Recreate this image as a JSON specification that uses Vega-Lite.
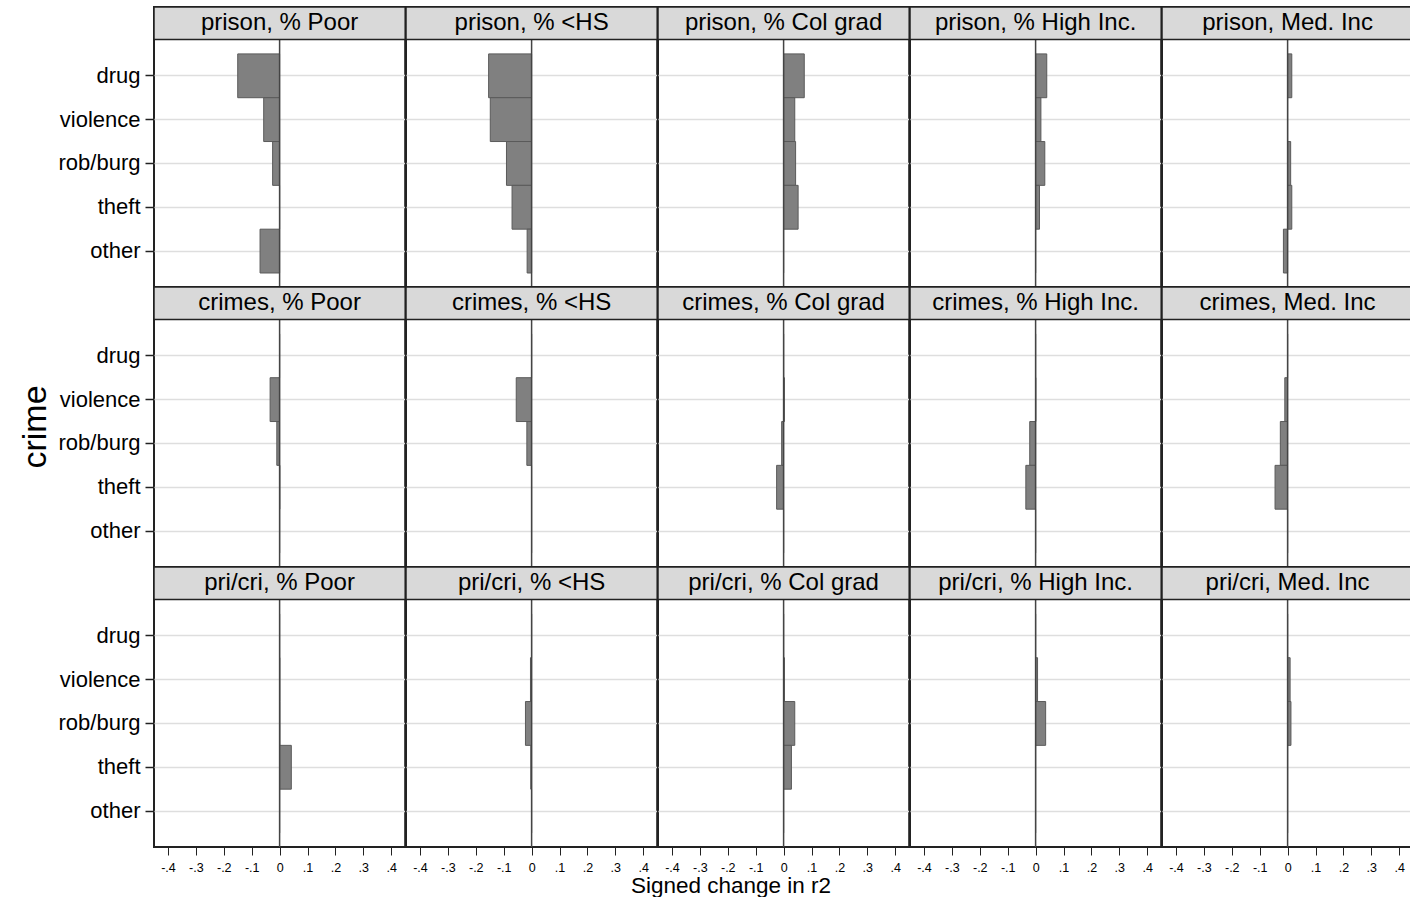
{
  "$schema": "https://vega.github.io/schema/vega-lite/v6.json",
  "padding": {"left": 19, "top": 5, "right": 0, "bottom": 0},
  "background": "white",
  "config": {
    "font": "Liberation Sans",
    "view": {"stroke": "#222222", "strokeWidth": 2}
  },
  "title": {"text": "Signed change in r2", "orient": "bottom", "fontSize": 22.5, "fontWeight": "normal", "anchor": "middle", "dx": 14, "offset": 1, "color": "black", "font": "Liberation Sans"},
  "data": {"values": [
    {"g": "prison", "v": "% Poor", "c": "drug", "r2": -0.15, "panel": "prison, % Poor"},
    {"g": "prison", "v": "% Poor", "c": "violence", "r2": -0.057, "panel": "prison, % Poor"},
    {"g": "prison", "v": "% Poor", "c": "rob/burg", "r2": -0.025, "panel": "prison, % Poor"},
    {"g": "prison", "v": "% Poor", "c": "theft", "r2": 0, "panel": "prison, % Poor"},
    {"g": "prison", "v": "% Poor", "c": "other", "r2": -0.07, "panel": "prison, % Poor"},
    {"g": "prison", "v": "% <HS", "c": "drug", "r2": -0.154, "panel": "prison, % <HS"},
    {"g": "prison", "v": "% <HS", "c": "violence", "r2": -0.148, "panel": "prison, % <HS"},
    {"g": "prison", "v": "% <HS", "c": "rob/burg", "r2": -0.09, "panel": "prison, % <HS"},
    {"g": "prison", "v": "% <HS", "c": "theft", "r2": -0.07, "panel": "prison, % <HS"},
    {"g": "prison", "v": "% <HS", "c": "other", "r2": -0.016, "panel": "prison, % <HS"},
    {"g": "prison", "v": "% Col grad", "c": "drug", "r2": 0.074, "panel": "prison, % Col grad"},
    {"g": "prison", "v": "% Col grad", "c": "violence", "r2": 0.04, "panel": "prison, % Col grad"},
    {"g": "prison", "v": "% Col grad", "c": "rob/burg", "r2": 0.043, "panel": "prison, % Col grad"},
    {"g": "prison", "v": "% Col grad", "c": "theft", "r2": 0.052, "panel": "prison, % Col grad"},
    {"g": "prison", "v": "% Col grad", "c": "other", "r2": 0, "panel": "prison, % Col grad"},
    {"g": "prison", "v": "% High Inc.", "c": "drug", "r2": 0.04, "panel": "prison, % High Inc."},
    {"g": "prison", "v": "% High Inc.", "c": "violence", "r2": 0.019, "panel": "prison, % High Inc."},
    {"g": "prison", "v": "% High Inc.", "c": "rob/burg", "r2": 0.033, "panel": "prison, % High Inc."},
    {"g": "prison", "v": "% High Inc.", "c": "theft", "r2": 0.014, "panel": "prison, % High Inc."},
    {"g": "prison", "v": "% High Inc.", "c": "other", "r2": 0, "panel": "prison, % High Inc."},
    {"g": "prison", "v": "Med. Inc", "c": "drug", "r2": 0.015, "panel": "prison, Med. Inc"},
    {"g": "prison", "v": "Med. Inc", "c": "violence", "r2": 0, "panel": "prison, Med. Inc"},
    {"g": "prison", "v": "Med. Inc", "c": "rob/burg", "r2": 0.011, "panel": "prison, Med. Inc"},
    {"g": "prison", "v": "Med. Inc", "c": "theft", "r2": 0.015, "panel": "prison, Med. Inc"},
    {"g": "prison", "v": "Med. Inc", "c": "other", "r2": -0.015, "panel": "prison, Med. Inc"},
    {"g": "crimes", "v": "% Poor", "c": "drug", "r2": 0, "panel": "crimes, % Poor"},
    {"g": "crimes", "v": "% Poor", "c": "violence", "r2": -0.034, "panel": "crimes, % Poor"},
    {"g": "crimes", "v": "% Poor", "c": "rob/burg", "r2": -0.01, "panel": "crimes, % Poor"},
    {"g": "crimes", "v": "% Poor", "c": "theft", "r2": 0.001, "panel": "crimes, % Poor"},
    {"g": "crimes", "v": "% Poor", "c": "other", "r2": 0, "panel": "crimes, % Poor"},
    {"g": "crimes", "v": "% <HS", "c": "drug", "r2": 0, "panel": "crimes, % <HS"},
    {"g": "crimes", "v": "% <HS", "c": "violence", "r2": -0.055, "panel": "crimes, % <HS"},
    {"g": "crimes", "v": "% <HS", "c": "rob/burg", "r2": -0.017, "panel": "crimes, % <HS"},
    {"g": "crimes", "v": "% <HS", "c": "theft", "r2": 0, "panel": "crimes, % <HS"},
    {"g": "crimes", "v": "% <HS", "c": "other", "r2": 0, "panel": "crimes, % <HS"},
    {"g": "crimes", "v": "% Col grad", "c": "drug", "r2": 0, "panel": "crimes, % Col grad"},
    {"g": "crimes", "v": "% Col grad", "c": "violence", "r2": 0.003, "panel": "crimes, % Col grad"},
    {"g": "crimes", "v": "% Col grad", "c": "rob/burg", "r2": -0.007, "panel": "crimes, % Col grad"},
    {"g": "crimes", "v": "% Col grad", "c": "theft", "r2": -0.025, "panel": "crimes, % Col grad"},
    {"g": "crimes", "v": "% Col grad", "c": "other", "r2": 0, "panel": "crimes, % Col grad"},
    {"g": "crimes", "v": "% High Inc.", "c": "drug", "r2": 0, "panel": "crimes, % High Inc."},
    {"g": "crimes", "v": "% High Inc.", "c": "violence", "r2": 0.001, "panel": "crimes, % High Inc."},
    {"g": "crimes", "v": "% High Inc.", "c": "rob/burg", "r2": -0.021, "panel": "crimes, % High Inc."},
    {"g": "crimes", "v": "% High Inc.", "c": "theft", "r2": -0.035, "panel": "crimes, % High Inc."},
    {"g": "crimes", "v": "% High Inc.", "c": "other", "r2": 0, "panel": "crimes, % High Inc."},
    {"g": "crimes", "v": "Med. Inc", "c": "drug", "r2": 0, "panel": "crimes, Med. Inc"},
    {"g": "crimes", "v": "Med. Inc", "c": "violence", "r2": -0.01, "panel": "crimes, Med. Inc"},
    {"g": "crimes", "v": "Med. Inc", "c": "rob/burg", "r2": -0.026, "panel": "crimes, Med. Inc"},
    {"g": "crimes", "v": "Med. Inc", "c": "theft", "r2": -0.045, "panel": "crimes, Med. Inc"},
    {"g": "crimes", "v": "Med. Inc", "c": "other", "r2": 0, "panel": "crimes, Med. Inc"},
    {"g": "pri/cri", "v": "% Poor", "c": "drug", "r2": 0, "panel": "pri/cri, % Poor"},
    {"g": "pri/cri", "v": "% Poor", "c": "violence", "r2": 0.001, "panel": "pri/cri, % Poor"},
    {"g": "pri/cri", "v": "% Poor", "c": "rob/burg", "r2": 0.001, "panel": "pri/cri, % Poor"},
    {"g": "pri/cri", "v": "% Poor", "c": "theft", "r2": 0.042, "panel": "pri/cri, % Poor"},
    {"g": "pri/cri", "v": "% Poor", "c": "other", "r2": 0, "panel": "pri/cri, % Poor"},
    {"g": "pri/cri", "v": "% <HS", "c": "drug", "r2": 0, "panel": "pri/cri, % <HS"},
    {"g": "pri/cri", "v": "% <HS", "c": "violence", "r2": -0.004, "panel": "pri/cri, % <HS"},
    {"g": "pri/cri", "v": "% <HS", "c": "rob/burg", "r2": -0.022, "panel": "pri/cri, % <HS"},
    {"g": "pri/cri", "v": "% <HS", "c": "theft", "r2": -0.003, "panel": "pri/cri, % <HS"},
    {"g": "pri/cri", "v": "% <HS", "c": "other", "r2": 0, "panel": "pri/cri, % <HS"},
    {"g": "pri/cri", "v": "% Col grad", "c": "drug", "r2": 0, "panel": "pri/cri, % Col grad"},
    {"g": "pri/cri", "v": "% Col grad", "c": "violence", "r2": 0.003, "panel": "pri/cri, % Col grad"},
    {"g": "pri/cri", "v": "% Col grad", "c": "rob/burg", "r2": 0.04, "panel": "pri/cri, % Col grad"},
    {"g": "pri/cri", "v": "% Col grad", "c": "theft", "r2": 0.028, "panel": "pri/cri, % Col grad"},
    {"g": "pri/cri", "v": "% Col grad", "c": "other", "r2": 0, "panel": "pri/cri, % Col grad"},
    {"g": "pri/cri", "v": "% High Inc.", "c": "drug", "r2": 0, "panel": "pri/cri, % High Inc."},
    {"g": "pri/cri", "v": "% High Inc.", "c": "violence", "r2": 0.007, "panel": "pri/cri, % High Inc."},
    {"g": "pri/cri", "v": "% High Inc.", "c": "rob/burg", "r2": 0.036, "panel": "pri/cri, % High Inc."},
    {"g": "pri/cri", "v": "% High Inc.", "c": "theft", "r2": 0, "panel": "pri/cri, % High Inc."},
    {"g": "pri/cri", "v": "% High Inc.", "c": "other", "r2": 0, "panel": "pri/cri, % High Inc."},
    {"g": "pri/cri", "v": "Med. Inc", "c": "drug", "r2": 0, "panel": "pri/cri, Med. Inc"},
    {"g": "pri/cri", "v": "Med. Inc", "c": "violence", "r2": 0.009, "panel": "pri/cri, Med. Inc"},
    {"g": "pri/cri", "v": "Med. Inc", "c": "rob/burg", "r2": 0.012, "panel": "pri/cri, Med. Inc"},
    {"g": "pri/cri", "v": "Med. Inc", "c": "theft", "r2": 0, "panel": "pri/cri, Med. Inc"},
    {"g": "pri/cri", "v": "Med. Inc", "c": "other", "r2": 0, "panel": "pri/cri, Med. Inc"}
  ]},
  "facet": {
    "row": {"field": "g", "type": "nominal", "sort": ["prison", "crimes", "pri/cri"], "title": "crime",
      "header": {"labels": false, "titleFontSize": 34, "titleFontWeight": "normal", "titleColor": "black", "titlePadding": -5, "titleFont": "Liberation Sans"}},
    "column": {"field": "v", "type": "nominal", "sort": ["% Poor", "% <HS", "% Col grad", "% High Inc.", "Med. Inc"], "title": null,
      "header": {"labels": false}}
  },
  "spacing": {"row": 0, "column": 0},
  "bounds": "flush",
  "spec": {
    "width": 251.2,
    "height": 280,
    "layer": [
      {
        "mark": {"type": "bar", "fill": "#808080", "stroke": "#5a5a5a", "strokeWidth": 1},
        "encoding": {
          "x": {"field": "r2", "type": "quantitative",
            "scale": {"domain": [-0.45, 0.45], "nice": false, "zero": false},
            "axis": {"values": [-0.4, -0.3, -0.2, -0.1, 0, 0.1, 0.2, 0.3, 0.4],
              "labelExpr": "datum.value == 0 ? '0' : (datum.value < 0 ? '-' : '') + '.' + round(abs(datum.value) * 10)",
              "labelFontSize": 12.5, "labelColor": "black", "tickSize": 8, "tickColor": "#222", "tickWidth": 1,
              "labelPadding": 6, "domain": false, "grid": false, "title": null, "labelFlush": false, "labelOverlap": false}},
          "y": {"field": "c", "type": "nominal",
            "sort": ["drug", "violence", "rob/burg", "theft", "other"],
            "scale": {"domain": ["drug", "violence", "rob/burg", "theft", "other"], "paddingInner": 0, "paddingOuter": 0.695, "align": 0.77},
            "axis": {"title": null, "domain": false, "tickSize": 9, "tickColor": "#222", "tickWidth": 1.5,
              "labelFontSize": 22, "labelPadding": 5, "labelColor": "black",
              "grid": true, "gridColor": "#dedede", "gridWidth": 1.5}}
        }
      },
      {
        "transform": [{"filter": "datum.c == 'drug'"}],
        "mark": {"type": "rule", "color": "#444444", "strokeWidth": 1.5},
        "encoding": {"x": {"datum": 0, "type": "quantitative",
            "axis": {"values": [-0.4, -0.3, -0.2, -0.1, 0, 0.1, 0.2, 0.3, 0.4],
              "labelExpr": "datum.value == 0 ? '0' : (datum.value < 0 ? '-' : '') + '.' + round(abs(datum.value) * 10)",
              "labelFontSize": 12.5, "labelColor": "black", "tickSize": 8, "tickColor": "#222", "tickWidth": 1,
              "labelPadding": 6, "domain": false, "grid": false, "title": null, "labelFlush": false, "labelOverlap": false}}}
      },
      {
        "transform": [{"filter": "datum.c == 'drug'"}],
        "mark": {"type": "rect", "fill": "#d9d9d9", "stroke": "#222222", "strokeWidth": 1.5},
        "encoding": {
          "x": {"datum": -0.45, "type": "quantitative",
            "axis": {"values": [-0.4, -0.3, -0.2, -0.1, 0, 0.1, 0.2, 0.3, 0.4],
              "labelExpr": "datum.value == 0 ? '0' : (datum.value < 0 ? '-' : '') + '.' + round(abs(datum.value) * 10)",
              "labelFontSize": 12.5, "labelColor": "black", "tickSize": 8, "tickColor": "#222", "tickWidth": 1,
              "labelPadding": 6, "domain": false, "grid": false, "title": null, "labelFlush": false, "labelOverlap": false}},
          "x2": {"datum": 0.45},
          "y": {"datum": "drug", "type": "nominal", "bandPosition": -1.07,
            "axis": {"title": null, "domain": false, "tickSize": 9, "tickColor": "#222", "tickWidth": 1.5,
              "labelFontSize": 22, "labelPadding": 5, "labelColor": "black",
              "grid": true, "gridColor": "#dedede", "gridWidth": 1.5}},
          "y2": {"datum": "drug", "bandPosition": -0.329}
        }
      },
      {
        "transform": [{"filter": "datum.c == 'drug'"}],
        "mark": {"type": "text", "fontSize": 24, "color": "black", "baseline": "middle", "align": "center"},
        "encoding": {
          "text": {"field": "panel", "type": "nominal"},
          "x": {"datum": 0, "type": "quantitative",
            "axis": {"values": [-0.4, -0.3, -0.2, -0.1, 0, 0.1, 0.2, 0.3, 0.4],
              "labelExpr": "datum.value == 0 ? '0' : (datum.value < 0 ? '-' : '') + '.' + round(abs(datum.value) * 10)",
              "labelFontSize": 12.5, "labelColor": "black", "tickSize": 8, "tickColor": "#222", "tickWidth": 1,
              "labelPadding": 6, "domain": false, "grid": false, "title": null, "labelFlush": false, "labelOverlap": false}},
          "y": {"datum": "drug", "type": "nominal", "bandPosition": -0.7,
            "axis": {"title": null, "domain": false, "tickSize": 9, "tickColor": "#222", "tickWidth": 1.5,
              "labelFontSize": 22, "labelPadding": 5, "labelColor": "black",
              "grid": true, "gridColor": "#dedede", "gridWidth": 1.5}}
        }
      }
    ]
  }
}
